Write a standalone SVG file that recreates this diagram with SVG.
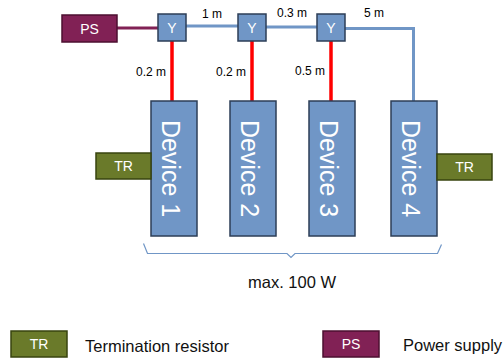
<svg xmlns="http://www.w3.org/2000/svg" width="504" height="358" viewBox="0 0 504 358">
<style>
text{font-family:"Liberation Sans",Arial,sans-serif}
.dev{fill:#7096c6;stroke:#2c3e57;stroke-width:1.5}
.y{fill:#7096c6;stroke:#2c3e57;stroke-width:1.5}
.tr{fill:#6a7a2a;stroke:#38440f;stroke-width:1.5}
.ps{fill:#812155;stroke:#4c0f30;stroke-width:1.5}
.wt{fill:#fff;text-anchor:middle}
.bx{font-size:14px}
.dt{font-size:25px}
.lb{font-size:12px;fill:#000}
.lg{font-size:16.5px;fill:#111}
.blue{fill:none;stroke:#7096c6;stroke-width:3}
.red{fill:none;stroke:#ff0000;stroke-width:3.5}
.mar{fill:none;stroke:#812155;stroke-width:3}
</style>
<g id="connectors">
<line class="mar" x1="117" y1="28" x2="158" y2="28"/>
<line class="blue" x1="186" y1="26" x2="238" y2="26"/>
<line class="blue" x1="266" y1="27" x2="317" y2="27"/>
<polyline class="blue" points="345,28.5 413.5,28.5 413.5,101"/>
<line class="red" x1="172" y1="41" x2="172" y2="101"/>
<line class="red" x1="252" y1="41" x2="252" y2="101"/>
<line class="red" x1="331" y1="40" x2="331" y2="101"/>
</g>
<g id="labels" class="lb">
<text x="202" y="18">1 m</text>
<text x="277" y="17">0.3 m</text>
<text x="364" y="17">5 m</text>
<text x="136" y="76">0.2 m</text>
<text x="216" y="76">0.2 m</text>
<text x="295" y="75">0.5 m</text>
</g>
<g id="ps">
<rect class="ps" x="62" y="15" width="55" height="27"/>
<text class="wt bx" x="89.5" y="33.5">PS</text>
</g>
<g id="y1">
<rect class="y" x="158" y="14" width="28" height="27"/>
<text class="wt bx" x="172" y="32.5">Y</text>
</g>
<g id="y2">
<rect class="y" x="238" y="14" width="28" height="27"/>
<text class="wt bx" x="252" y="32.5">Y</text>
</g>
<g id="y3">
<rect class="y" x="317" y="14" width="28" height="27"/>
<text class="wt bx" x="331" y="32.5">Y</text>
</g>
<g id="device1">
<rect class="dev" x="151" y="101" width="46" height="135"/>
<text class="wt dt" transform="translate(162,168.5) rotate(90)">Device 1</text>
</g>
<g id="device2">
<rect class="dev" x="230" y="101" width="46" height="135"/>
<text class="wt dt" transform="translate(241,168.5) rotate(90)">Device 2</text>
</g>
<g id="device3">
<rect class="dev" x="309" y="101" width="46" height="135"/>
<text class="wt dt" transform="translate(320,168.5) rotate(90)">Device 3</text>
</g>
<g id="device4">
<rect class="dev" x="391" y="101" width="46" height="135"/>
<text class="wt dt" transform="translate(402,168.5) rotate(90)">Device 4</text>
</g>
<g id="tr1">
<rect class="tr" x="96" y="153" width="55" height="26"/>
<text class="wt bx" x="123.5" y="171">TR</text>
</g>
<g id="tr2">
<rect class="tr" x="437" y="154" width="55" height="26"/>
<text class="wt bx" x="464.5" y="172">TR</text>
</g>
<g id="brace">
<path d="M143.5,243.5 L147.5,253.5 L287,253.5 L291,257.5 L295,253.5 L437.5,253.5 L441.5,244.5" fill="none" stroke="#7096c6" stroke-width="1.2"/>
<text class="lg" x="292" y="288" text-anchor="middle">max. 100 W</text>
</g>
<g id="legend-tr">
<rect class="tr" x="11" y="331" width="56" height="26"/>
<text class="wt bx" x="39" y="349">TR</text>
<text class="lg" x="85" y="351.5">Termination resistor</text>
</g>
<g id="legend-ps">
<rect class="ps" x="323" y="331" width="56" height="26"/>
<text class="wt bx" x="351" y="349">PS</text>
<text class="lg" x="403" y="350.5">Power supply</text>
</g>
</svg>
